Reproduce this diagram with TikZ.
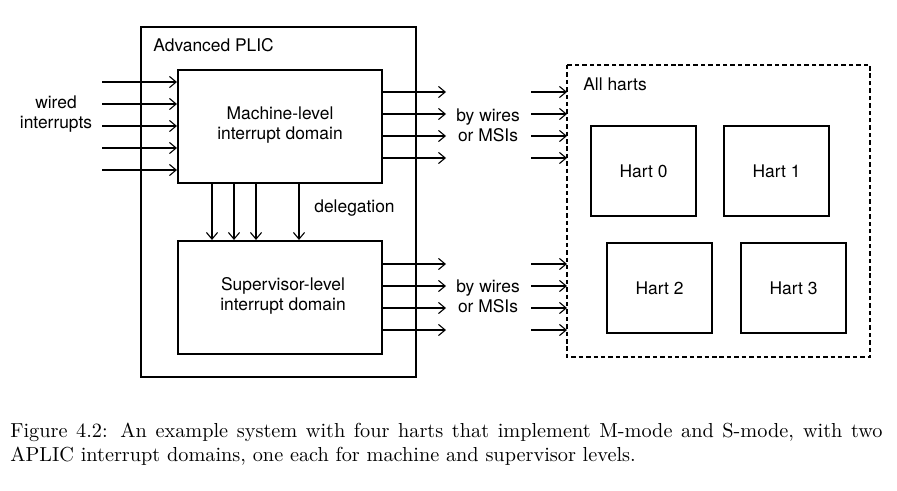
\documentclass[tikz,border=0pt]{standalone}
\usepackage{fontspec}
\newfontfamily\diag{TeX Gyre Heros}
\usetikzlibrary{arrows.meta}
\begin{document}
\begin{tikzpicture}[x=0.54pt,y=-0.54pt,
  box/.style={draw,line width=1.1pt},
  lbl/.style={font=\diag\fontsize{9.4}{10.8}\selectfont,align=center,inner sep=0pt},
  sig/.style={line width=0.6pt,-{Straight Barb[length=3.6pt,width=6pt]}},
  hart/.style={draw,line width=1.1pt,minimum width=105*0.54pt,minimum height=90*0.54pt,inner sep=0pt,font=\diag\fontsize{9.4}{10.8}\selectfont}]
\useasboundingbox (0,0) rectangle (897,490);
% outer boxes
\draw[box] (141,27) rectangle (416,377);
\node[lbl,anchor=west] (plic) at (153,45) {Advanced PLIC};
\node[box,minimum width=204*0.54pt,minimum height=113*0.54pt,inner sep=0pt] (m) at (280,126.5) {};
\node[lbl] at (280,125) {Machine-level\\interrupt domain};
\node[box,minimum width=204*0.54pt,minimum height=113*0.54pt,inner sep=0pt] (s) at (280,297.5) {};
\node[lbl] at (283,296) {Supervisor-level\\interrupt domain};
% wired interrupts
\node[lbl] (wired) at (56,114) {wired\\interrupts};
\foreach \y [count=\i] in {82,104,126,148,170}{
  \coordinate (win\i) at (102,\y);
  \draw[sig] (win\i) -- (m.west |- win\i);
}
% delegation
\foreach \x [count=\i] in {212,234,256,299}{
  \coordinate (d\i) at (\x,183);
  \draw[sig] (m.south -| d\i) -- (s.north -| d\i);
}
\node[lbl,anchor=west] (deleg) at (314,208) {delegation};
% outputs machine
\foreach \y [count=\i] in {92,114,136,158}{
  \coordinate (mo\i) at (446,\y);
  \draw[sig] (m.east |- mo\i) -- (mo\i);
  \coordinate (mi\i) at (531,\y);
  \coordinate (me\i) at (567,\y);
  \draw[sig] (mi\i) -- (me\i);
}
\node[lbl] (bw1) at (488,125) {by wires\\or MSIs};
% outputs supervisor
\foreach \y [count=\i] in {264,286,308,330}{
  \coordinate (so\i) at (446,\y);
  \draw[sig] (s.east |- so\i) -- (so\i);
  \coordinate (si\i) at (531,\y);
  \coordinate (se\i) at (567,\y);
  \draw[sig] (si\i) -- (se\i);
}
\node[lbl] (bw2) at (488,296) {by wires\\or MSIs};
% all harts
\draw[line width=1.1pt,dash pattern=on 2.4pt off 1.6pt] (567,65) rectangle (870,357);
\node[lbl,anchor=west] (all) at (583,84) {All harts};
\node[hart] (h0) at (643.5,171) {Hart 0};
\node[hart] (h1) at (776.5,171) {Hart 1};
\node[hart] (h2) at (659.5,288) {Hart 2};
\node[hart] (h3) at (793.5,288) {Hart 3};
% caption
\node[anchor=west,inner sep=0pt,font=\fontsize{10.95}{13}\selectfont] (cap1) at (10,432)
  {\makebox[471pt][s]{Figure 4.2: An example system with four harts that implement M-mode and S-mode, with two}};
\node[anchor=west,inner sep=0pt,font=\fontsize{10.95}{13}\selectfont] (cap2) at (10,456)
  {APLIC interrupt domains, one each for machine and supervisor levels.};
\end{tikzpicture}
\end{document}
